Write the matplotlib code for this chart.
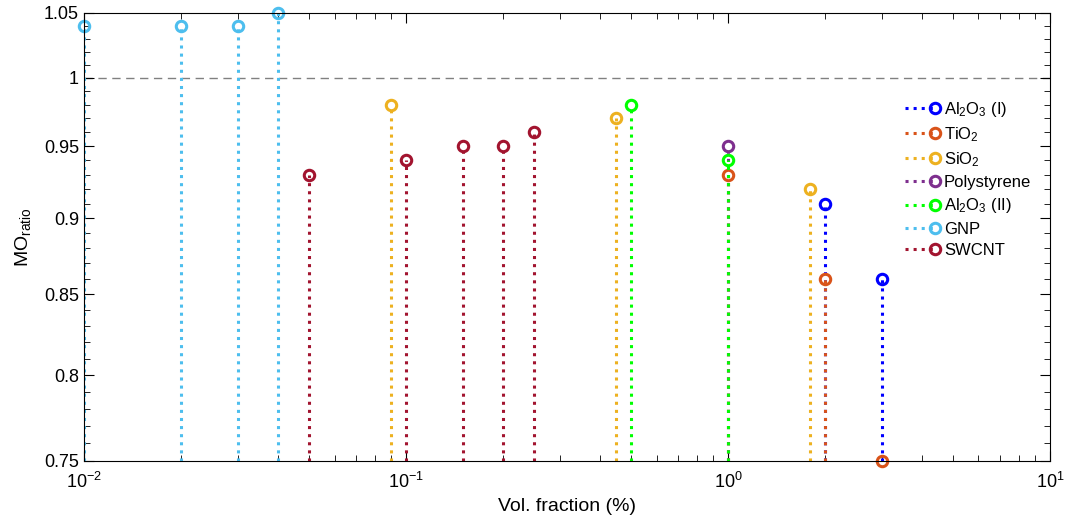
import numpy as np
import matplotlib
matplotlib.use("Agg")
import matplotlib.pyplot as plt
from matplotlib.lines import Line2D
from matplotlib.legend_handler import HandlerLine2D
from matplotlib.ticker import FixedLocator, FuncFormatter, NullFormatter

plt.rcParams['font.family'] = ['Liberation Sans', 'DejaVu Sans']
plt.rcParams['mathtext.fontset'] = 'custom'
plt.rcParams['mathtext.rm'] = 'Liberation Sans'
plt.rcParams['mathtext.it'] = 'Liberation Sans'

# data
names = ['Al$_2$O$_3$ (I)', 'TiO$_2$', 'SiO$_2$', 'Polystyrene',
         'Al$_2$O$_3$ (II)', 'GNP', 'SWCNT']
colors = ['#0000ff', '#d95319', '#edb120', '#7e2f8e',
          '#00ff00', '#4dbeee', '#a2142f']

al2o3_1_x = [2.0, 3.0]
al2o3_1_y = [0.91, 0.86]
tio2_x = [1.0, 2.0, 3.0]
tio2_y = [0.93, 0.86, 0.75]
sio2_x = [0.09, 0.45, 1.8]
sio2_y = [0.98, 0.97, 0.92]
ps_x = [1.0]
ps_y = [0.95]
al2o3_2_x = [0.5, 1.0]
al2o3_2_y = [0.98, 0.94]
gnp_x = [0.01, 0.02, 0.03, 0.04]
gnp_y = [1.04, 1.04, 1.04, 1.05]
swcnt_x = [0.05, 0.1, 0.15, 0.2, 0.25]
swcnt_y = [0.93, 0.94, 0.95, 0.95, 0.96]

yticks = [0.75, 0.8, 0.85, 0.9, 0.95, 1.0, 1.05]

xs = [al2o3_1_x, tio2_x, sio2_x, ps_x, al2o3_2_x, gnp_x, swcnt_x]
ys = [al2o3_1_y, tio2_y, sio2_y, ps_y, al2o3_2_y, gnp_y, swcnt_y]


class MarkerAtEnd(HandlerLine2D):
  '''legend handle with the marker at the right end of the line'''
  def create_artists(self, legend, orig_handle, xdescent, ydescent,
                     width, height, fontsize, trans):
    arts = super().create_artists(legend, orig_handle, xdescent, ydescent,
                                  width, height, fontsize, trans)
    for a in arts:
      n = len(a.get_xdata())
      a.set_markevery([n - 1])
    return arts


fig = plt.figure(figsize=(10.67, 5.15), dpi=100)
ax = fig.add_axes([0.0787, 0.1049, 0.9053, 0.8699])
ax.set_xscale('log')
ax.set_yscale('log')

handles = []
for x, y, c, n in zip(xs, ys, colors, names):
  mk, st, bl = ax.stem(x, y, bottom=0.75, basefmt=' ')
  st.set_color(c)
  st.set_linestyle(':')
  st.set_linewidth(2.2)
  mk.set_markerfacecolor('none')
  mk.set_markeredgecolor(c)
  mk.set_markeredgewidth(2.2)
  mk.set_markersize(7.5)
  mk.set_clip_on(False)
  handles.append(Line2D([], [], color=c, ls=':', lw=2.2, marker='o',
                        mfc='none', mec=c, mew=2.2, ms=7.5, label=n))

ax.plot([0.01, 10], [1, 1], '--', color='#808080', lw=1, dashes=(6, 4), zorder=0)

ax.set_xlim(0.01, 10)
ax.set_ylim(0.75, 1.05)
ax.yaxis.set_major_locator(FixedLocator(yticks))
ax.yaxis.set_major_formatter(FuncFormatter(lambda v, p: '%g' % v))
ax.yaxis.set_minor_locator(FixedLocator(np.arange(0.75, 1.055, 0.01)))
ax.yaxis.set_minor_formatter(NullFormatter())
ax.tick_params(which='both', direction='in', top=True, right=True, labelsize=13)
ax.tick_params(which='major', length=7)
ax.tick_params(which='minor', length=4)
ax.tick_params(axis='x', which='major', pad=8)

ax.set_xlabel('Vol. fraction (%)', fontsize=14, labelpad=4)
ax.set_ylabel('MO$_{\\mathrm{ratio}}$', fontsize=14, labelpad=8)

ax.legend(handles=handles, loc='upper right', bbox_to_anchor=(0.996, 0.84),
          frameon=False, fontsize=12, handlelength=1.8, handletextpad=0.5,
          labelspacing=0.38, handler_map={Line2D: MarkerAtEnd()})

fig.savefig('out.png', dpi=100)
